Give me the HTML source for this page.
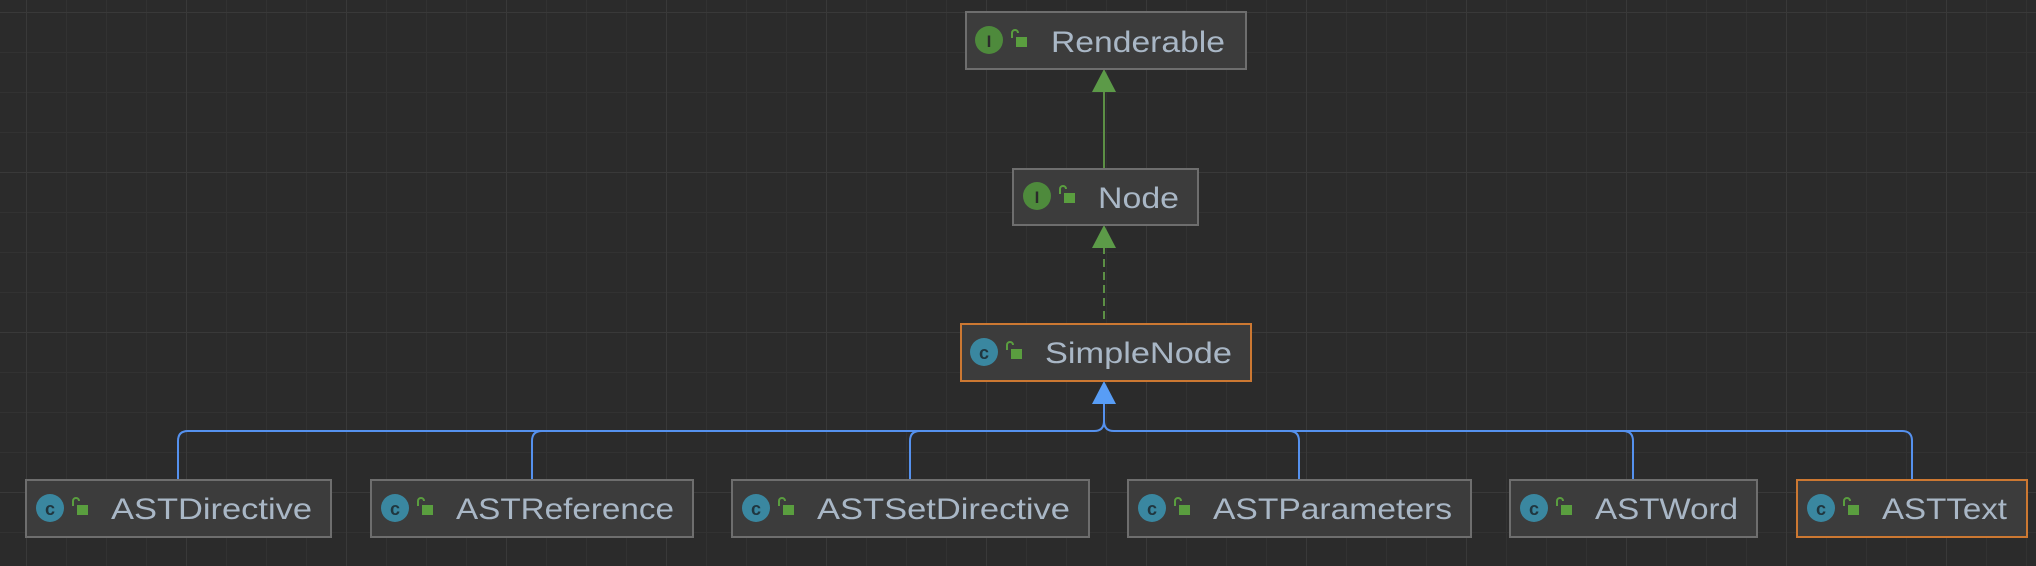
<!DOCTYPE html>
<html><head><meta charset="utf-8"><style>
html,body{margin:0;padding:0;background:#2b2b2b;}
svg{display:block}
text{font-family:"Liberation Sans",sans-serif;}
</style></head><body>
<svg width="2036" height="566" viewBox="0 0 2036 566" xmlns="http://www.w3.org/2000/svg">
<defs>
<pattern id="minor" x="26" y="12" width="40" height="40" patternUnits="userSpaceOnUse">
<path d="M0 0V40M0 0H40" stroke="#323232" stroke-width="2" fill="none"/>
</pattern>
<pattern id="major" x="26" y="12" width="160" height="160" patternUnits="userSpaceOnUse">
<path d="M0 0V160M0 0H160" stroke="#393939" stroke-width="2" fill="none"/>
</pattern>
</defs>
<rect width="2036" height="566" fill="#2b2b2b"/>
<rect width="2036" height="566" fill="url(#minor)"/>
<rect width="2036" height="566" fill="url(#major)"/>

<!-- green connectors -->
<line x1="1104" y1="90" x2="1104" y2="169" stroke="#5c8f45" stroke-width="2"/>
<polygon points="1104,69 1092,92 1116,92" fill="#5c9a48"/>
<line x1="1104" y1="246" x2="1104" y2="324" stroke="#5c8f45" stroke-width="2" stroke-dasharray="8,5"/>
<polygon points="1104,225 1092,248 1116,248" fill="#5c9a48"/>

<!-- blue connectors -->
<g stroke="#5591ee" stroke-width="2" fill="none">
<path d="M1104 402 V421 Q1104 431 1094 431 H188 Q178 431 178 441 V480"/>
<path d="M542 431 Q532 431 532 441 V480"/>
<path d="M920 431 Q910 431 910 441 V480"/>
<path d="M1104 421 Q1104 431 1114 431 H1902 Q1912 431 1912 441 V480"/>
<path d="M1289 431 Q1299 431 1299 441 V480"/>
<path d="M1623 431 Q1633 431 1633 441 V480"/>
</g>
<polygon points="1104,381 1092,404 1116,404" fill="#589df6"/>

<g id="boxes">
<!-- Renderable -->
<rect x="966" y="12" width="280" height="57" fill="#3c3c3c" stroke="#6e6e6e" stroke-width="2"/>
<circle cx="989" cy="40" r="14" fill="#4e8a3c"/><text x="989" y="47" font-size="17" font-weight="bold" fill="#2b2b2b" text-anchor="middle">I</text>
<path d="M1012 38 v-5 a3 3 0 0 1 6 0" stroke="#5a9e3f" stroke-width="2" fill="none"/><rect x="1016" y="37" width="11" height="10" fill="#5a9e3f"/>
<text x="1051" y="52" font-size="30" fill="#a9b7c6" textLength="174" lengthAdjust="spacingAndGlyphs">Renderable</text>

<!-- Node -->
<rect x="1013" y="169" width="185" height="56" fill="#3c3c3c" stroke="#6e6e6e" stroke-width="2"/>
<circle cx="1037" cy="196" r="14" fill="#4e8a3c"/><text x="1037" y="203" font-size="17" font-weight="bold" fill="#2b2b2b" text-anchor="middle">I</text>
<path d="M1060 194 v-5 a3 3 0 0 1 6 0" stroke="#5a9e3f" stroke-width="2" fill="none"/><rect x="1064" y="193" width="11" height="10" fill="#5a9e3f"/>
<text x="1098" y="208" font-size="30" fill="#a9b7c6" textLength="81" lengthAdjust="spacingAndGlyphs">Node</text>

<!-- SimpleNode -->
<rect x="961" y="324" width="290" height="57" fill="#3c3c3c" stroke="#cc7832" stroke-width="2"/>
<circle cx="984" cy="352" r="14" fill="#3a87a0"/><text x="984" y="359" font-size="18" font-weight="bold" fill="#20363f" text-anchor="middle">c</text>
<path d="M1007 350 v-5 a3 3 0 0 1 6 0" stroke="#5a9e3f" stroke-width="2" fill="none"/><rect x="1011" y="349" width="11" height="10" fill="#5a9e3f"/>
<text x="1045" y="363" font-size="30" fill="#a9b7c6" textLength="187" lengthAdjust="spacingAndGlyphs">SimpleNode</text>
</g>

<!-- bottom row -->
<g>
<rect x="26" y="480" width="305" height="57" fill="#3c3c3c" stroke="#6e6e6e" stroke-width="2"/>
<circle cx="50" cy="508" r="14" fill="#3a87a0"/><text x="50" y="515" font-size="18" font-weight="bold" fill="#20363f" text-anchor="middle">c</text>
<path d="M73 506 v-5 a3 3 0 0 1 6 0" stroke="#5a9e3f" stroke-width="2" fill="none"/><rect x="77" y="505" width="11" height="10" fill="#5a9e3f"/>
<text x="111" y="519" font-size="30" fill="#a9b7c6" textLength="201" lengthAdjust="spacingAndGlyphs">ASTDirective</text>

<rect x="371" y="480" width="322" height="57" fill="#3c3c3c" stroke="#6e6e6e" stroke-width="2"/>
<circle cx="395" cy="508" r="14" fill="#3a87a0"/><text x="395" y="515" font-size="18" font-weight="bold" fill="#20363f" text-anchor="middle">c</text>
<path d="M418 506 v-5 a3 3 0 0 1 6 0" stroke="#5a9e3f" stroke-width="2" fill="none"/><rect x="422" y="505" width="11" height="10" fill="#5a9e3f"/>
<text x="456" y="519" font-size="30" fill="#a9b7c6" textLength="218" lengthAdjust="spacingAndGlyphs">ASTReference</text>

<rect x="732" y="480" width="357" height="57" fill="#3c3c3c" stroke="#6e6e6e" stroke-width="2"/>
<circle cx="756" cy="508" r="14" fill="#3a87a0"/><text x="756" y="515" font-size="18" font-weight="bold" fill="#20363f" text-anchor="middle">c</text>
<path d="M779 506 v-5 a3 3 0 0 1 6 0" stroke="#5a9e3f" stroke-width="2" fill="none"/><rect x="783" y="505" width="11" height="10" fill="#5a9e3f"/>
<text x="817" y="519" font-size="30" fill="#a9b7c6" textLength="253" lengthAdjust="spacingAndGlyphs">ASTSetDirective</text>

<rect x="1128" y="480" width="343" height="57" fill="#3c3c3c" stroke="#6e6e6e" stroke-width="2"/>
<circle cx="1152" cy="508" r="14" fill="#3a87a0"/><text x="1152" y="515" font-size="18" font-weight="bold" fill="#20363f" text-anchor="middle">c</text>
<path d="M1175 506 v-5 a3 3 0 0 1 6 0" stroke="#5a9e3f" stroke-width="2" fill="none"/><rect x="1179" y="505" width="11" height="10" fill="#5a9e3f"/>
<text x="1213" y="519" font-size="30" fill="#a9b7c6" textLength="239" lengthAdjust="spacingAndGlyphs">ASTParameters</text>

<rect x="1510" y="480" width="247" height="57" fill="#3c3c3c" stroke="#6e6e6e" stroke-width="2"/>
<circle cx="1534" cy="508" r="14" fill="#3a87a0"/><text x="1534" y="515" font-size="18" font-weight="bold" fill="#20363f" text-anchor="middle">c</text>
<path d="M1557 506 v-5 a3 3 0 0 1 6 0" stroke="#5a9e3f" stroke-width="2" fill="none"/><rect x="1561" y="505" width="11" height="10" fill="#5a9e3f"/>
<text x="1595" y="519" font-size="30" fill="#a9b7c6" textLength="143" lengthAdjust="spacingAndGlyphs">ASTWord</text>

<rect x="1797" y="480" width="230" height="57" fill="#3c3c3c" stroke="#cc7832" stroke-width="2"/>
<circle cx="1821" cy="508" r="14" fill="#3a87a0"/><text x="1821" y="515" font-size="18" font-weight="bold" fill="#20363f" text-anchor="middle">c</text>
<path d="M1844 506 v-5 a3 3 0 0 1 6 0" stroke="#5a9e3f" stroke-width="2" fill="none"/><rect x="1848" y="505" width="11" height="10" fill="#5a9e3f"/>
<text x="1882" y="519" font-size="30" fill="#a9b7c6" textLength="125" lengthAdjust="spacingAndGlyphs">ASTText</text>
</g>
</svg>
</body></html>
